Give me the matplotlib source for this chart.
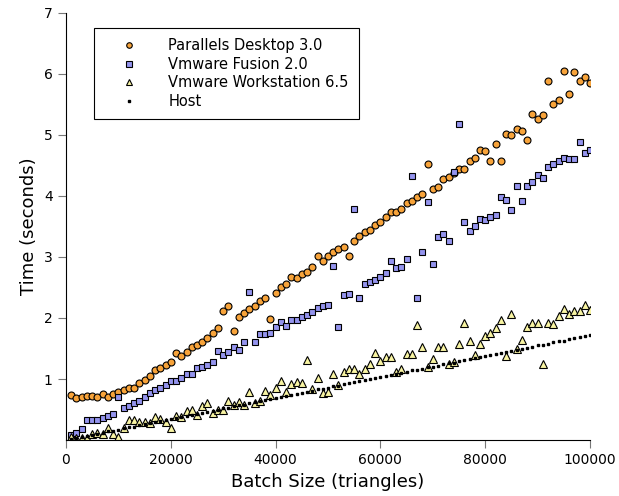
import matplotlib
matplotlib.use("Agg")
import matplotlib.pyplot as plt
import numpy as np

# batch sizes (triangles)
batch = np.arange(1000, 100001, 1000)

parallels = [
    0.74, 0.69, 0.71, 0.72, 0.72, 0.71, 0.75, 0.70, 0.75, 0.78,
    0.82, 0.86, 0.86, 0.93, 0.99, 1.05, 1.15, 1.18, 1.23, 1.28,
    1.42, 1.38, 1.45, 1.52, 1.55, 1.61, 1.68, 1.75, 1.83, 2.11,
    2.20, 1.79, 2.02, 2.08, 2.14, 2.19, 2.28, 2.33, 1.98, 2.41,
    2.51, 2.55, 2.67, 2.65, 2.72, 2.75, 2.83, 3.02, 2.94, 3.02,
    3.08, 3.13, 3.16, 3.02, 3.27, 3.34, 3.41, 3.45, 3.52, 3.58,
    3.66, 3.73, 3.74, 3.78, 3.89, 3.91, 3.99, 4.04, 4.52, 4.11,
    4.14, 4.28, 4.31, 4.38, 4.44, 4.44, 4.57, 4.63, 4.75, 4.74,
    4.57, 4.86, 4.57, 5.02, 5.00, 5.10, 5.07, 4.91, 5.35, 5.26,
    5.32, 5.88, 5.51, 5.57, 6.05, 5.68, 6.04, 5.88, 5.95, 5.86,
]

fusion = [
    0.08, 0.11, 0.18, 0.33, 0.33, 0.32, 0.36, 0.40, 0.42, 0.71,
    0.53, 0.56, 0.60, 0.64, 0.71, 0.77, 0.82, 0.86, 0.90, 0.97,
    0.97, 1.02, 1.09, 1.08, 1.18, 1.19, 1.23, 1.28, 1.46, 1.39,
    1.45, 1.52, 1.48, 1.60, 2.43, 1.60, 1.73, 1.73, 1.75, 1.86,
    1.94, 1.87, 1.97, 1.96, 2.01, 2.05, 2.10, 2.16, 2.19, 2.22,
    2.86, 1.85, 2.37, 2.40, 3.78, 2.33, 2.55, 2.59, 2.63, 2.67,
    2.74, 2.93, 2.82, 2.83, 2.97, 4.33, 2.32, 3.09, 3.90, 2.89,
    3.33, 3.38, 3.27, 4.39, 5.18, 3.58, 3.42, 3.51, 3.63, 3.60,
    3.65, 3.69, 3.98, 3.94, 3.77, 4.17, 3.91, 4.16, 4.23, 4.34,
    4.30, 4.48, 4.52, 4.57, 4.63, 4.60, 4.60, 4.88, 4.71, 4.75,
]

workstation = [
    0.05, 0.03, 0.03, 0.04, 0.10, 0.11, 0.10, 0.20, 0.10, 0.05,
    0.20, 0.32, 0.32, 0.30, 0.30, 0.28, 0.37, 0.34, 0.30, 0.20,
    0.39, 0.38, 0.48, 0.50, 0.41, 0.56, 0.60, 0.44, 0.50, 0.50,
    0.64, 0.58, 0.62, 0.58, 0.79, 0.60, 0.64, 0.81, 0.73, 0.85,
    0.97, 0.78, 0.92, 0.95, 0.94, 1.31, 0.83, 1.02, 0.77, 0.78,
    1.08, 0.90, 1.11, 1.16, 1.16, 1.08, 1.17, 1.25, 1.42, 1.30,
    1.36, 1.36, 1.11, 1.17, 1.41, 1.41, 1.88, 1.52, 1.19, 1.33,
    1.52, 1.53, 1.24, 1.28, 1.58, 1.92, 1.62, 1.39, 1.57, 1.71,
    1.76, 1.83, 1.96, 1.38, 2.07, 1.50, 1.64, 1.85, 1.92, 1.92,
    1.24, 1.92, 1.90, 2.03, 2.15, 2.06, 2.11, 2.11, 2.22, 2.13,
]

host = [
    0.02, 0.03, 0.05, 0.07, 0.09, 0.10, 0.12, 0.14, 0.15, 0.17,
    0.19, 0.21, 0.22, 0.24, 0.26, 0.28, 0.29, 0.31, 0.33, 0.34,
    0.36, 0.38, 0.40, 0.41, 0.43, 0.45, 0.46, 0.48, 0.50, 0.52,
    0.53, 0.55, 0.57, 0.58, 0.60, 0.62, 0.64, 0.65, 0.67, 0.69,
    0.71, 0.72, 0.74, 0.76, 0.77, 0.79, 0.81, 0.83, 0.84, 0.86,
    0.88, 0.89, 0.91, 0.93, 0.95, 0.96, 0.98, 1.00, 1.01, 1.03,
    1.05, 1.07, 1.08, 1.10, 1.12, 1.14, 1.15, 1.17, 1.19, 1.20,
    1.22, 1.24, 1.26, 1.27, 1.29, 1.31, 1.32, 1.34, 1.36, 1.38,
    1.39, 1.41, 1.43, 1.44, 1.46, 1.48, 1.50, 1.51, 1.53, 1.55,
    1.56, 1.58, 1.60, 1.62, 1.63, 1.65, 1.67, 1.69, 1.70, 1.72,
]

fig = plt.figure(figsize=(6.19, 4.96), dpi=100)
ax = fig.add_axes([0.1066, 0.1129, 0.8466, 0.8609])

ax.plot(batch, parallels, 'o', color='#F7A33A', markeredgecolor='black',
        markeredgewidth=0.8, markersize=5, label='Parallels Desktop 3.0')
ax.plot(batch, fusion, 's', color='#9494EE', markeredgecolor='black',
        markeredgewidth=0.8, markersize=5, label='Vmware Fusion 2.0')
ax.plot(batch, workstation, '^', color='#F8F4A2', markeredgecolor='black',
        markeredgewidth=0.8, markersize=5.5, label='Vmware Workstation 6.5')
ax.plot(batch, host, 's', color='black', markersize=2,
        label='Host')

ax.set_xlim(0, 100000)
ax.set_ylim(0, 7)
ax.set_yticks([1, 2, 3, 4, 5, 6, 7])
ax.set_xticks([0, 20000, 40000, 60000, 80000, 100000])
ax.tick_params(labelsize=10, color='#777777', length=6)
ax.spines['top'].set_visible(False)
ax.spines['right'].set_visible(False)

ax.set_xlabel('Batch Size (triangles)', fontsize=13)
ax.set_ylabel('Time (seconds)', fontsize=13)

leg = ax.legend(loc='upper left', bbox_to_anchor=(0.053, 0.965), fontsize=10.5,
                markerscale=0.8, numpoints=1, fancybox=False, framealpha=1,
                edgecolor='black', handlelength=3.4, handletextpad=1.0,
                labelspacing=0.25, borderpad=0.7, borderaxespad=0)
leg.get_frame().set_linewidth(0.8)

fig.savefig('out.png', dpi=100)
